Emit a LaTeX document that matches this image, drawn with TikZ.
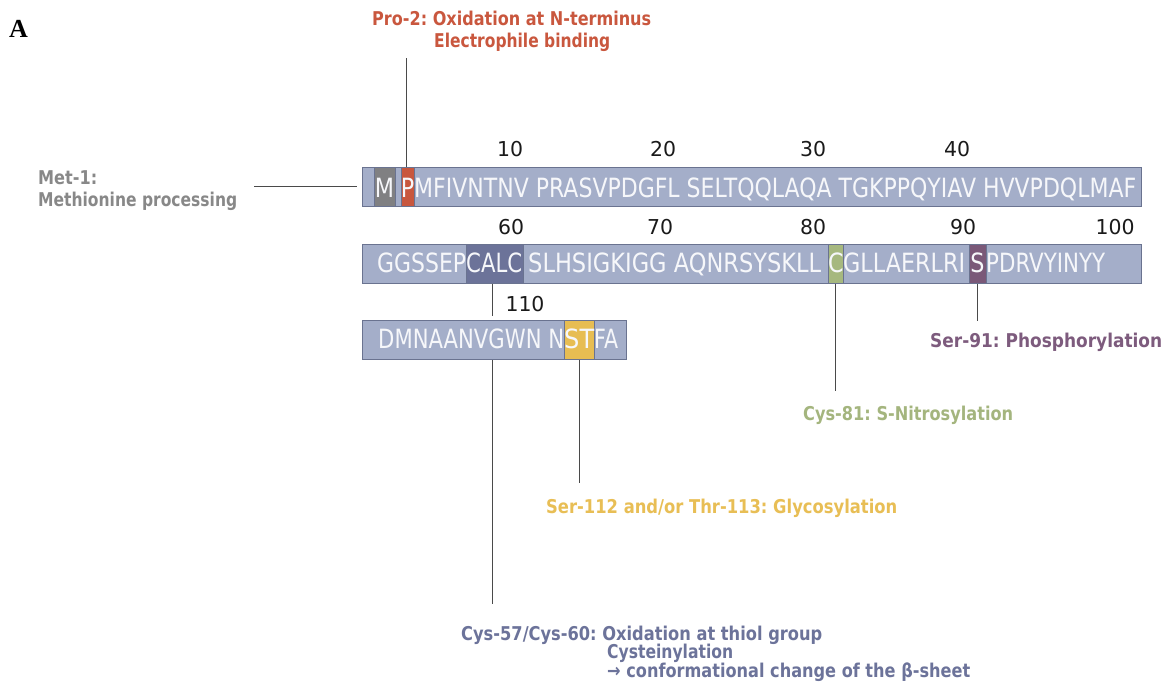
\documentclass[tikz,border=0pt]{standalone}
\usepackage{fontspec}
\usepackage{graphicx}
\newfontfamily\seqfont{DejaVu Sans}
\newfontfamily\labfont{DejaVu Sans}
\newfontfamily\serifA{Liberation Serif}
\definecolor{rowfill}{HTML}{A4AEC9}
\definecolor{boxline}{HTML}{6A7390}
\definecolor{mgray}{HTML}{808082}
\definecolor{pred}{HTML}{C8573E}
\definecolor{calcblue}{HTML}{6C7399}
\definecolor{cgreen}{HTML}{A6B87F}
\definecolor{spurple}{HTML}{7A5878}
\definecolor{styellow}{HTML}{E7BD52}
\definecolor{labgray}{HTML}{888888}
\definecolor{labred}{HTML}{C9573E}
\definecolor{labpurple}{HTML}{7D5B7D}
\definecolor{labgreen}{HTML}{A4B57E}
\definecolor{labyellow}{HTML}{E8BE55}
\definecolor{labblue}{HTML}{6C739A}
\definecolor{seqwhite}{HTML}{F6F7FA}
\definecolor{numblack}{HTML}{1A1A1A}
\definecolor{linegray}{HTML}{4A4A4A}
\newcommand\hfit[2]{\resizebox{#1pt}{\height}{#2}}
\newcommand\hsq[1]{\scalebox{0.84}[1]{#1}}
\frenchspacing
\begin{document}
\begin{tikzpicture}[x=1pt,y=-1pt,
  rowbox/.style={draw=boxline, fill=rowfill, line width=1.2pt, anchor=north west, inner sep=0pt, minimum height=39pt},
  hl/.style={draw=boxline, line width=1.2pt, anchor=north west, inner sep=0pt, minimum height=39pt},
  seqtxt/.style={anchor=base west, inner sep=0pt, text=seqwhite, font=\seqfont\fontsize{26.5}{30}\selectfont},
  seqc/.style={anchor=base, inner sep=0pt, text=seqwhite, font=\seqfont\fontsize{26.5}{30}\selectfont},
  num/.style={anchor=base, inner sep=0pt, text=numblack, font=\seqfont\fontsize{20.5}{22}\selectfont},
  lab/.style={anchor=base west, inner sep=0pt, font=\labfont\bfseries\fontsize{19}{22}\selectfont},
  conn/.style={draw=linegray, line width=1pt}]
\useasboundingbox (0,0) rectangle (1164,682);

% panel letter
\node[anchor=base west, inner sep=0pt, font=\serifA\bfseries\fontsize{26}{28}\selectfont] (panelA) at (9,38) {A};

% rows
\node[rowbox, minimum width=779pt] (row1) at (362,167) {};
\node[rowbox, minimum width=779pt] (row2) at (362,243.5) {};
\node[rowbox, minimum width=264pt] (row3) at (362,320) {};

% highlighted residues
\node[hl, fill=mgray, minimum width=21pt] (Mbox) at (374,167) {};
\node[hl, fill=pred, minimum width=13pt] (Pbox) at (401,167) {};
\node[hl, fill=calcblue, minimum width=57pt] (CALCbox) at (466,243.5) {};
\node[hl, fill=cgreen, minimum width=15pt] (Cbox) at (828,243.5) {};
\node[hl, fill=spurple, minimum width=17pt] (Sbox) at (969,243.5) {};
\node[hl, fill=styellow, minimum width=30pt] (STbox) at (564,320) {};

% sequence text, row 1
\node[seqc] (tM) at (384.5,197) {\hsq{M}};
\node[seqc] (tP) at (407.5,197) {\hsq{P}};
\node[seqtxt] (t1) at (414,197) {\hfit{722}{MFIVNTNV PRASVPDGFL SELTQQLAQA TGKPPQYIAV HVVPDQLMAF}};
% row 2
\node[seqtxt] (t2a) at (377,272) {\hfit{89}{GGSSEP}};
\node[seqtxt] (t2b) at (466,272) {\hfit{56}{CALC}};
\node[seqtxt] (t2c) at (528,272) {\hfit{293}{SLHSIGKIGG AQNRSYSKLL}};
\node[seqc] (t2d) at (836,272) {\hsq{C}};
\node[seqtxt] (t2e) at (843,272) {\hfit{122}{GLLAERLRI}};
\node[seqc] (t2f) at (977.5,272) {\hsq{S}};
\node[seqtxt] (t2g) at (986,272) {\hfit{119}{PDRVYINYY}};
% row 3
\node[seqtxt] (t3a) at (378,348) {\hfit{186}{DMNAANVGWN N}};
\node[seqtxt] (t3b) at (564,348) {\hfit{30}{ST}};
\node[seqtxt] (t3c) at (594,348) {\hfit{24}{FA}};

% residue numbers
\node[num] (n10) at (510,157) {\hfit{26}{10}};
\node[num] (n20) at (663,157) {\hfit{26}{20}};
\node[num] (n30) at (813,157) {\hfit{26}{30}};
\node[num] (n40) at (957,157) {\hfit{26}{40}};
\node[num] (n60) at (511,234) {\hfit{26}{60}};
\node[num] (n70) at (660,234) {\hfit{26}{70}};
\node[num] (n80) at (813,234) {\hfit{26}{80}};
\node[num] (n90) at (963,234) {\hfit{26}{90}};
\node[num] (n100) at (1115,234) {\hfit{39}{100}};
\node[num] (n110) at (525,311) {\hfit{39}{110}};

% labels
\node[lab, text=labred] (pro2a) at (372,26) {\hfit{279}{Pro-2: Oxidation at N-terminus}};
\node[lab, text=labred] (pro2b) at (434,48) {\hfit{176}{Electrophile binding}};
\node[lab, text=labgray] (met1a) at (38,184) {\hfit{59}{Met-1:}};
\node[lab, text=labgray] (met1b) at (38,206) {\hfit{199}{Methionine processing}};
\node[lab, text=labpurple] (ser91) at (930,347) {\hfit{232}{Ser-91: Phosphorylation}};
\node[lab, text=labgreen] (cys81) at (803,420) {\hfit{210}{Cys-81: S-Nitrosylation}};
\node[lab, text=labyellow] (ser112) at (546,513) {\hfit{351}{Ser-112 and/or Thr-113: Glycosylation}};
\node[lab, text=labblue] (cys57a) at (461,640) {\hfit{361}{Cys-57/Cys-60: Oxidation at thiol group}};
\node[lab, text=labblue] (cys57b) at (607,658) {\hfit{126}{Cysteinylation}};
\node[lab, text=labblue] (cys57c) at (607,677) {\hfit{363}{→ conformational change of the β-sheet}};

% connector free ends
\coordinate (metL) at (254,186);
\coordinate (proT) at (406,58);
\coordinate (calcA) at (492,316);
\coordinate (calcB) at (492,604);
\coordinate (c81end) at (835,391);
\coordinate (s91end) at (977,321);
\coordinate (stend) at (579,483);

% connectors
\draw[conn] (metL) -- ([xshift=-5pt]row1.west |- metL);
\draw[conn] (Pbox.north -| proT) -- (proT);
\draw[conn] (CALCbox.south -| calcA) -- (calcA);
\draw[conn] (row3.south -| calcB) -- (calcB);
\draw[conn] (Cbox.south -| c81end) -- (c81end);
\draw[conn] (Sbox.south -| s91end) -- (s91end);
\draw[conn] (STbox.south -| stend) -- (stend);
\end{tikzpicture}
\end{document}
